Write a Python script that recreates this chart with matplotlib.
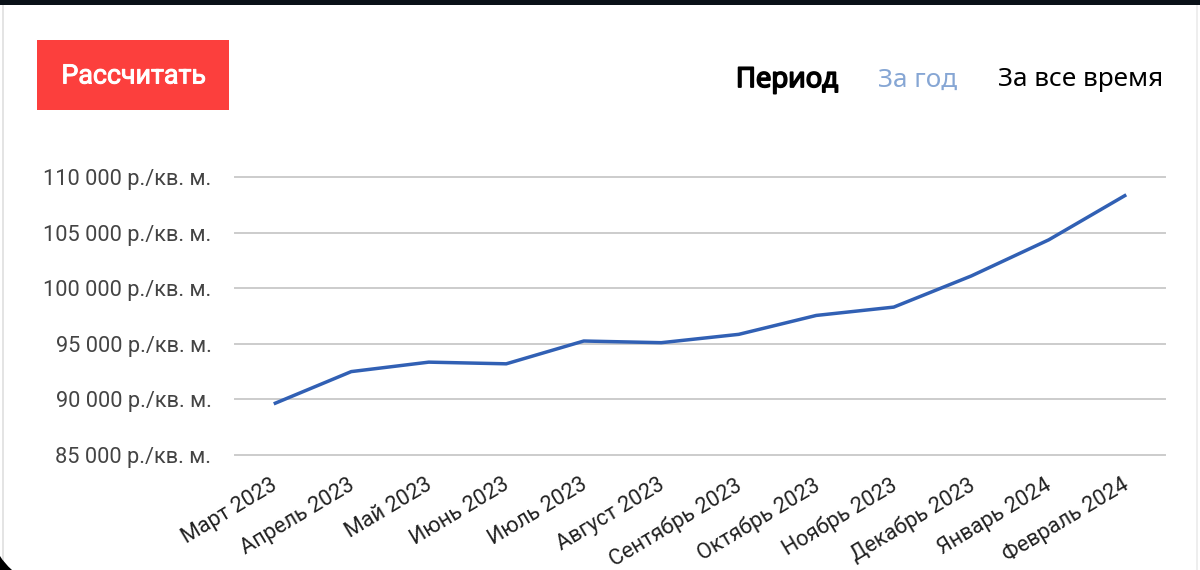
import matplotlib
matplotlib.use('Agg')
import matplotlib.pyplot as plt
import matplotlib.patheffects as pe
from matplotlib.patches import Rectangle, PathPatch
from matplotlib.path import Path

months = ['Март 2023', 'Апрель 2023', 'Май 2023', 'Июнь 2023', 'Июль 2023', 'Август 2023',
          'Сентябрь 2023', 'Октябрь 2023', 'Ноябрь 2023', 'Декабрь 2023', 'Январь 2024', 'Февраль 2024']
prices = [89600, 92500, 93350, 93200, 95250, 95100, 95850, 97550, 98300, 101100, 104350, 108400]
y_ticks = [85000, 90000, 95000, 100000, 105000, 110000]
y_labels = ['85 000 р./кв. м.', '90 000 р./кв. м.', '95 000 р./кв. м.',
            '100 000 р./кв. м.', '105 000 р./кв. м.', '110 000 р./кв. м.']

plt.rcParams['font.family'] = ['Roboto', 'DejaVu Sans']

fig = plt.figure(figsize=(12, 5.7), dpi=100, facecolor='white')

# chart area, placed in pixels
ax = fig.add_axes([235 / 1200, 115 / 570, 930 / 1200, 278 / 570])
ax.plot(range(len(months)), prices, color='#3160b4', linewidth=2.5, solid_joinstyle='round', solid_capstyle='butt')
ax.set_xlim(-0.5, 11.5)
ax.set_ylim(85000, 110000)
ax.set_yticks(y_ticks)
ax.set_yticklabels(y_labels, fontsize=15.7, color='#444444')
ax.set_xticks(range(len(months)))
ax.set_xticklabels(months, fontsize=15.7, color='#222222', rotation=31, ha='right', rotation_mode='anchor')
ax.tick_params(axis='both', length=0)
ax.tick_params(axis='y', pad=17)
ax.tick_params(axis='x', pad=14)
# nudge the slanted labels left a little
for lab in ax.get_xticklabels():
    lab.set_transform(lab.get_transform() + matplotlib.transforms.ScaledTranslation(-4 / 100, 0, fig.dpi_scale_trans))
ax.grid(axis='y', color='#cccccc', linewidth=1.4)
for line in ax.get_ygridlines():
    line.set_clip_on(False)
ax.set_axisbelow(True)
for s in ax.spines.values():
    s.set_visible(False)
ax.patch.set_alpha(0)

# screenshot decoration, button and period switch
over = fig.add_axes([0, 0, 1, 1], zorder=-1)
over.set_xlim(0, 1200)
over.set_ylim(570, 0)
over.axis('off')
over.add_patch(Rectangle((0, 0), 1200, 5, color='#0a1118', lw=0))
over.add_patch(Rectangle((2, 5), 2, 565, color='#e4e4e4', lw=0))
over.add_patch(Rectangle((1196, 5), 2, 565, color='#eeeeee', lw=0))
corner = Path([(0, 556), (4, 563), (12, 570), (0, 570), (0, 556)],
              [Path.MOVETO, Path.CURVE3, Path.CURVE3, Path.LINETO, Path.CLOSEPOLY])
over.add_patch(PathPatch(corner, color='black', lw=0))
over.add_patch(Rectangle((37, 40), 192, 70, color='#fc3f3d', lw=0))
over.text(133.5, 76, 'Рассчитать', color='white', fontsize=19.3, ha='center', va='center',
          path_effects=[pe.withStroke(linewidth=0.7, foreground='white')])
period_font = ['Open Sans', 'DejaVu Sans']
over.text(787, 80, 'Период', color='black', fontsize=19.8, family=period_font, ha='center', va='center',
          path_effects=[pe.withStroke(linewidth=1.3, foreground='black')])
over.text(918, 80, 'За год', color='#86a6d4', fontsize=18.8, family=['Noto Sans', 'DejaVu Sans'], ha='center', va='center')
over.text(1081, 80, 'За все время', color='black', fontsize=18.8, family=['Noto Sans', 'DejaVu Sans'], ha='center', va='center')

fig.savefig('out.png', dpi=100)
